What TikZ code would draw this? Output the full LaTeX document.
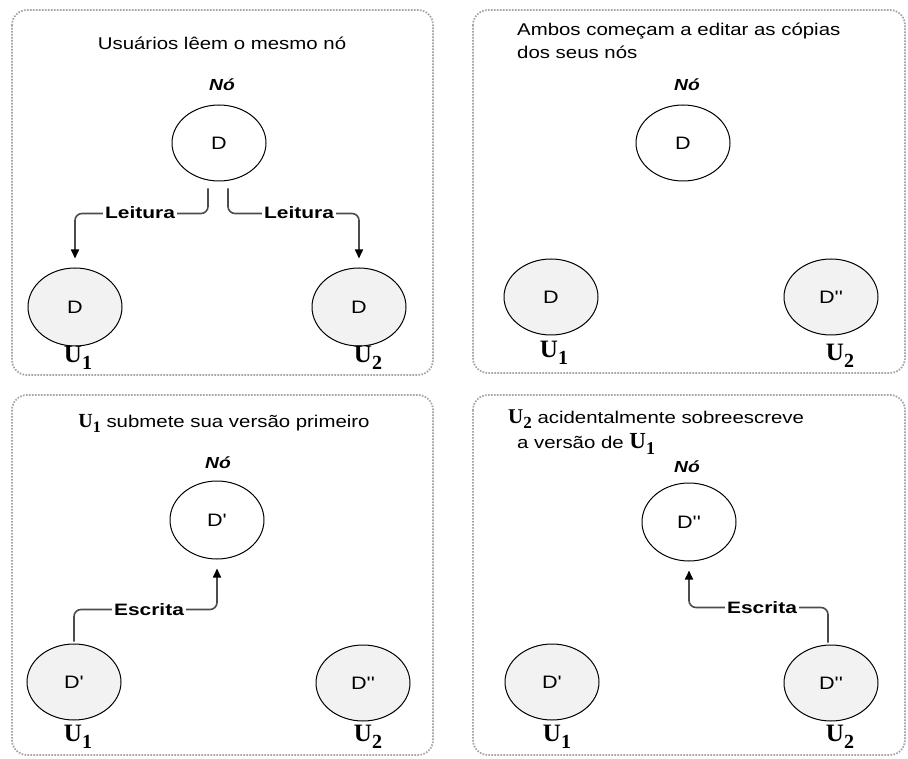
\documentclass[tikz,border=0pt]{standalone}
\usepackage{fontspec}
\setmainfont{Liberation Sans}
\newfontfamily\txtfont[FakeStretch=1.2]{Liberation Sans}
\newfontfamily\lblfont[FakeStretch=1.27]{Liberation Sans}
\newfontfamily\serfont{Liberation Serif}
\usetikzlibrary{shapes.geometric,arrows.meta,calc}

% bold serif user label with a large lowered index
\newcommand{\Ulab}[3]{{\serfont\bfseries\fontsize{#2}{#2}\selectfont U\raisebox{-#3pt}{\fontsize{\numexpr#2*4/5\relax}{#2}\selectfont #1}}}

\tikzset{
  panel/.style={draw=black!35, line width=1.8pt, dash pattern=on 1.6pt off 1.4pt, rounded corners=15pt},
  node/.style={ellipse, draw=black, line width=1pt, fill=white, minimum width=94pt, minimum height=76pt, inner sep=0pt,
               font=\txtfont\fontsize{18}{18}\selectfont},
  copy/.style={node, fill=black!5, minimum height=78pt},
  title/.style={font=\txtfont\fontsize{17}{23}\selectfont, inner sep=0pt},
  nolabel/.style={font=\txtfont\bfseries\itshape\fontsize{16}{16}\selectfont, inner sep=0pt},
  conn/.style={draw=black!70, line width=1.6pt, rounded corners=7pt},
  arrowed/.style={conn, -{Triangle[length=9pt,width=8pt,fill=black,color=black]}},
  flowlabel/.style={font=\lblfont\bfseries\fontsize{16.5}{16.5}\selectfont, fill=white, inner sep=2pt},
  ulabel/.style={inner sep=0pt}
}

\begin{document}
\begin{tikzpicture}[x=1pt,y=-1pt]
\useasboundingbox (0,0) rectangle (908,759);

% ---- panel frames
\draw[panel] (12,10) rectangle (433,375);
\draw[panel] (473,10) rectangle (905,373);
\draw[panel] (12,395) rectangle (433,755);
\draw[panel] (473,395) rectangle (905,755);

% ================= 1: both users read the same node
\node[title] (t1) at (222,43) {Usuários lêem o mesmo nó};
\node[nolabel] (nl1) at (222,85) {Nó};
\node[node] (n1) at (219,143) {D};
\node[copy] (a1) at (75,307) {D};
\node[copy] (b1) at (359,307) {D};
\node[ulabel] (ua1) at (78,358) {\Ulab{1}{25}{7}};
\node[ulabel] (ub1) at (368,358) {\Ulab{2}{25}{7}};
\draw[arrowed] ([xshift=-11pt,yshift=-7pt]n1.south) -- ++(0,25) -| ([yshift=9pt]a1.north);
\draw[arrowed] ([xshift=9pt,yshift=-7pt]n1.south) -- ++(0,25) -| ([yshift=9pt]b1.north);
\node[flowlabel] (r1) at (140,213) {Leitura};
\node[flowlabel] (r2) at (299,213) {Leitura};

% ================= 2: both start editing their copies
\node[title, anchor=west, align=left] (t2) at (517,41) {Ambos começam a editar as cópias\\dos seus nós};
\node[nolabel] (nl2) at (687,85) {Nó};
\node[node] (n2) at (683,143) {D};
\node[copy, minimum height=76pt] (a2) at (551,297) {D};
\node[copy, minimum height=76pt] (b2) at (831,297) {D''};
\node[ulabel] (ua2) at (554,353) {\Ulab{1}{25}{7}};
\node[ulabel] (ub2) at (840,356) {\Ulab{2}{25}{7}};

% ================= 3: U1 commits first
\node[title] (t3) at (224,423) {\Ulab{1}{20}{5} submete sua versão primeiro};
\node[nolabel] (nl3) at (218,463) {Nó};
\node[node, minimum height=78pt] (n3) at (217,520) {D'};
\node[copy, minimum height=76pt] (a3) at (74,682) {D'};
\node[copy, minimum height=76pt] (b3) at (363,683) {D''};
\node[ulabel] (ua3) at (78,737) {\Ulab{1}{25}{7}};
\node[ulabel] (ub3) at (368,737) {\Ulab{2}{25}{7}};
\draw[arrowed] ([yshift=2pt]a3.north) -- ++(0,-32) -| ([yshift=-9pt]n3.south);
\node[flowlabel] (w1) at (149,610) {Escrita};

% ================= 4: U2 overwrites U1's version
\node[title, anchor=west] (t4a) at (508,419) {\Ulab{2}{21}{5} acidentalmente sobreescreve};
\node[title, anchor=west] (t4b) at (517,444) {a versão de \Ulab{1}{23}{6}};
\node[nolabel] (nl4) at (687,467) {Nó};
\node[node, minimum height=78pt] (n4) at (689,522) {D''};
\node[copy, minimum height=76pt] (a4) at (552,682) {D'};
\node[copy, minimum height=76pt] (b4) at (831,683) {D''};
\node[ulabel] (ua4) at (557,737) {\Ulab{1}{25}{7}};
\node[ulabel] (ub4) at (840,737) {\Ulab{2}{25}{7}};
\draw[arrowed] ([xshift=-3pt,yshift=2pt]b4.north) -- ++(0,-35) -| ([yshift=-9pt]n4.south);
\node[flowlabel] (w2) at (762,608) {Escrita};

\end{tikzpicture}
\end{document}
